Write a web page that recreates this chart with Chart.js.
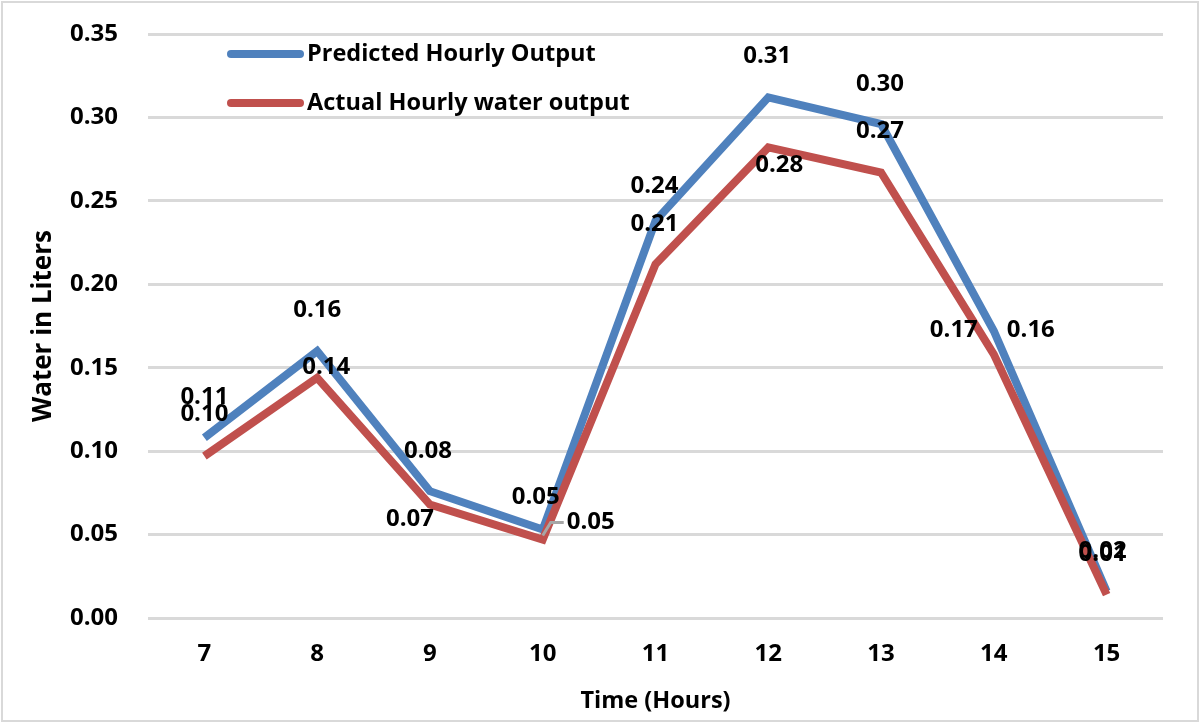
<!DOCTYPE html>
<html>
<head>
<meta charset="utf-8">
<script src="https://cdn.jsdelivr.net/npm/chart.js@4.4.1/dist/chart.umd.min.js"></script>
<style>
  html, body { margin: 0; padding: 0; background: #fff; }
  #wrap { width: 1200px; height: 723px; position: relative; }
</style>
</head>
<body>
<div id="wrap"><canvas id="chart1" width="1200" height="723"></canvas></div>
<script>
// data
const hours = ['7', '8', '9', '10', '11', '12', '13', '14', '15'];
const predicted = [0.108, 0.160, 0.076, 0.053, 0.238, 0.312, 0.296, 0.172, 0.016];
const actual = [0.097, 0.144, 0.068, 0.047, 0.212, 0.282, 0.267, 0.158, 0.014];
const seriesNames = ['Predicted Hourly Output', 'Actual Hourly water output'];

// where each value label sits relative to its point (px)
const labelOffsetsPredicted = [[0, -41], [0, -41], [-2, -40], [-7, -32], [-1, -35], [-1, -41], [-1, -40], [-40, -1], [-4, -40]];
const labelOffsetsActual = [[0, -42], [9, -11], [-20, 15], [48, -17], [-1, -40], [11, 18], [-1, -41], [37, -24], [-4, -40]];

const FONT = '"Open Sans", Lato, sans-serif';
const BLUE = '#4F81BD';
const RED = '#C0504D';

const valueLabels = {
  id: 'valueLabels',
  afterDatasetsDraw(chart) {
    const ctx = chart.ctx;
    const offsets = [labelOffsetsPredicted, labelOffsetsActual];
    ctx.save();
    ctx.font = 'bold 24px ' + FONT;
    ctx.fillStyle = '#000';
    ctx.textAlign = 'center';
    ctx.textBaseline = 'middle';
    chart.data.datasets.forEach((ds, i) => {
      const meta = chart.getDatasetMeta(i);
      meta.data.forEach((pt, j) => {
        const off = offsets[i][j];
        const tx = pt.x + off[0];
        const ty = pt.y + off[1];
        // leader line for the label that was pulled away from its point
        if (i === 1 && j === 3) {
          ctx.strokeStyle = '#A6A6A6';
          ctx.lineWidth = 3;
          ctx.beginPath();
          ctx.moveTo(tx - 27, ty);
          ctx.lineTo(tx - 40, ty);
          ctx.lineTo(pt.x, pt.y - 4);
          ctx.stroke();
        }
        ctx.fillText(ds.data[j].toFixed(2), tx, ty);
      });
    });
    ctx.restore();
  }
};

const insideLegend = {
  id: 'insideLegend',
  afterDraw(chart) {
    const ctx = chart.ctx;
    ctx.save();
    ctx.font = 'bold 23.5px ' + FONT;
    ctx.textBaseline = 'middle';
    ctx.textAlign = 'left';
    ctx.lineCap = 'round';
    chart.data.datasets.forEach((ds, i) => {
      const y = 54 + i * 49;
      ctx.strokeStyle = ds.borderColor;
      ctx.lineWidth = 8;
      ctx.beginPath();
      ctx.moveTo(231, y);
      ctx.lineTo(300, y);
      ctx.stroke();
      ctx.fillStyle = '#000';
      ctx.fillText(ds.label, 307, y);
    });
    ctx.restore();
  }
};

const frame = {
  id: 'frame',
  beforeDraw(chart) {
    const ctx = chart.ctx;
    ctx.save();
    ctx.fillStyle = '#fff';
    ctx.fillRect(0, 0, chart.width, chart.height);
    ctx.strokeStyle = '#D9D9D9';
    ctx.lineWidth = 2;
    ctx.strokeRect(2, 2, chart.width - 4, chart.height - 4);
    ctx.restore();
  }
};

new Chart(document.getElementById('chart1'), {
  type: 'line',
  data: {
    labels: hours,
    datasets: [
      {
        label: seriesNames[0],
        data: predicted,
        borderColor: BLUE,
        backgroundColor: BLUE,
        borderWidth: 8,
        pointRadius: 0,
        tension: 0,
        order: 1
      },
      {
        label: seriesNames[1],
        data: actual,
        borderColor: RED,
        backgroundColor: RED,
        borderWidth: 8,
        pointRadius: 0,
        tension: 0,
        order: 0
      }
    ]
  },
  options: {
    responsive: false,
    animation: false,
    devicePixelRatio: 1,
    layout: { padding: { left: 0, right: 37, top: 34, bottom: 0 } },
    plugins: {
      legend: { display: false },
      tooltip: { enabled: false }
    },
    scales: {
      x: {
        offset: true,
        grid: { display: false, drawTicks: false },
        border: { display: false },
        ticks: { color: '#000', font: { family: FONT, size: 24, weight: 'bold' }, padding: 22, maxRotation: 0 },
        title: { display: true, text: 'Time (Hours)', color: '#000', font: { family: FONT, size: 23.5, weight: 'bold' }, padding: { top: 8, bottom: 8 } },
        afterFit(scale) { scale.height = 105; }
      },
      y: {
        min: 0,
        max: 0.35,
        grid: { color: '#D9D9D9', lineWidth: 3, drawTicks: false },
        border: { display: false },
        ticks: {
          stepSize: 0.05,
          color: '#000',
          font: { family: FONT, size: 24, weight: 'bold' },
          padding: 30,
          callback: (v) => v.toFixed(2)
        },
        title: { display: true, text: 'Water in Liters', color: '#000', font: { family: FONT, size: 26, weight: 'bold' }, padding: { top: 28, bottom: 28 } },
        afterFit(scale) {
          scale.width = 148;
          scale.paddingTop = 0;
          scale.paddingBottom = 0;
        }
      }
    }
  },
  plugins: [frame, valueLabels, insideLegend]
});
</script>
</body>
</html>
